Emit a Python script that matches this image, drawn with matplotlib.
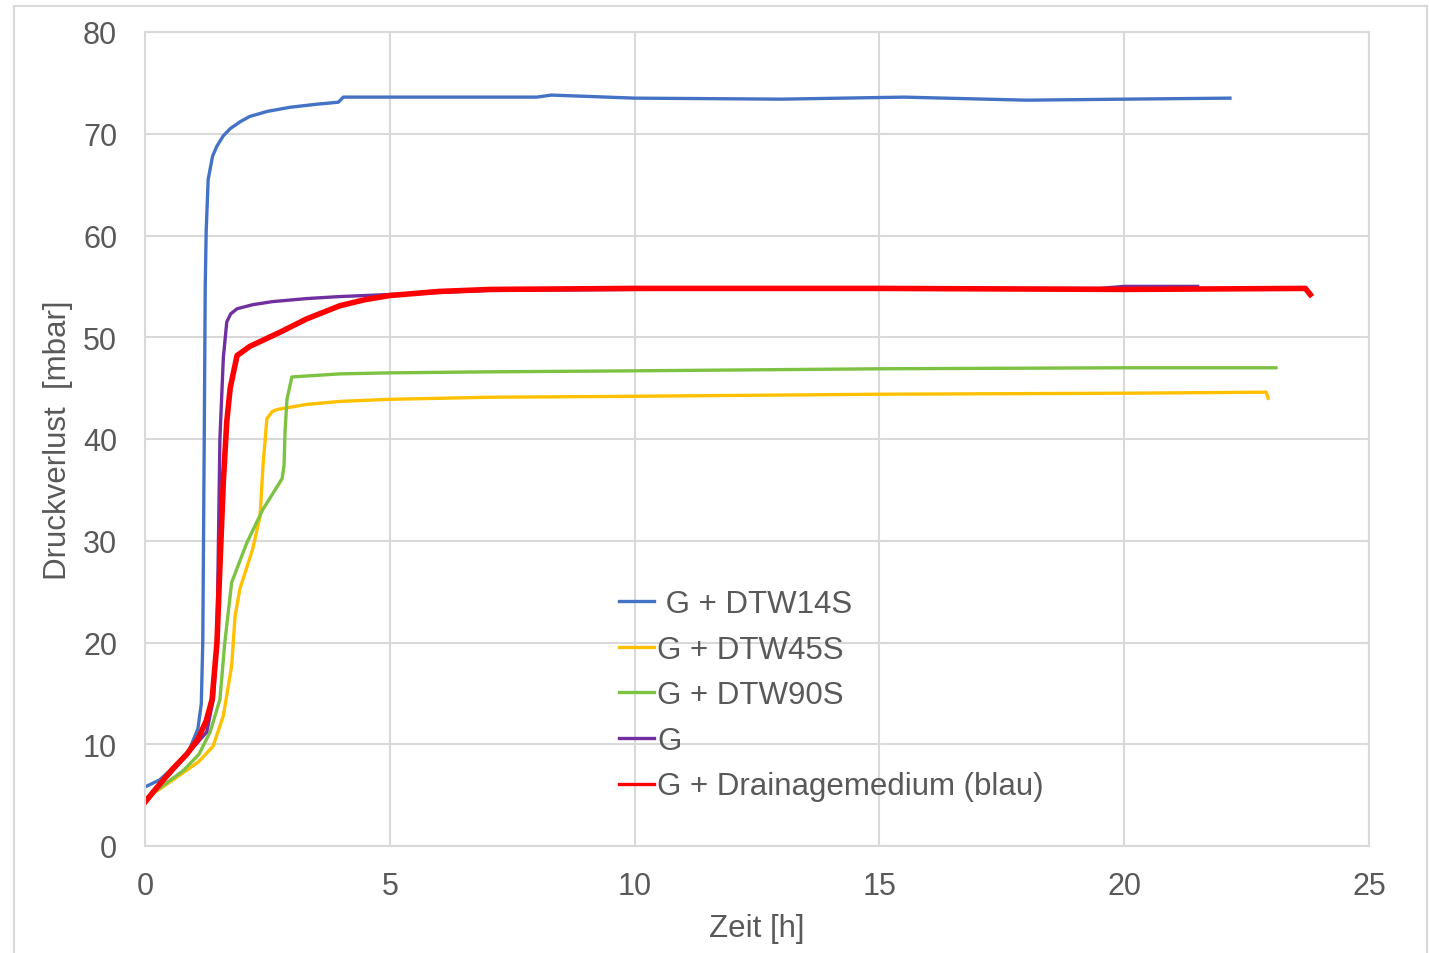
import matplotlib
matplotlib.use("Agg")
import matplotlib.pyplot as plt
from matplotlib.patches import Rectangle

plt.rcParams['font.family'] = ['Liberation Sans', 'DejaVu Sans']

# ---- data ----
t_dtw14 = [0, 0.3, 0.6, 0.9, 1.08, 1.15, 1.18, 1.21, 1.23, 1.25, 1.29, 1.38, 1.47, 1.6, 1.74,
           1.95, 2.14, 2.5, 2.96, 3.5, 3.95, 4.05, 5, 8, 8.3, 10, 13, 15.5, 18, 20, 22.16]
p_dtw14 = [5.8, 6.5, 7.8, 9.4, 11.5, 14, 20, 40, 55, 60.5, 65.5, 67.8, 68.8, 69.8, 70.5,
           71.2, 71.7, 72.2, 72.6, 72.9, 73.1, 73.6, 73.6, 73.6, 73.8, 73.5, 73.4, 73.6, 73.3, 73.4, 73.5]

t_dtw45 = [0, 0.3, 0.78, 1.1, 1.39, 1.6, 1.77, 1.84, 1.94, 2.2, 2.35, 2.41, 2.49, 2.6, 2.7,
           3.3, 4.0, 5, 7, 10, 15, 20, 22.9, 22.94]
p_dtw45 = [4.6, 5.6, 7.2, 8.3, 9.8, 12.8, 17.7, 22.6, 25.3, 29.2, 32.4, 37.4, 42, 42.7, 42.9,
           43.4, 43.7, 43.9, 44.1, 44.2, 44.4, 44.5, 44.6, 44.0]

t_dtw90 = [0, 0.3, 0.78, 1.1, 1.33, 1.53, 1.63, 1.77, 2.08, 2.41, 2.8, 2.84, 2.86, 2.9, 3.0,
           3.98, 5, 7, 10, 15, 20, 23.1]
p_dtw90 = [4.6, 5.7, 7.4, 9.0, 11.2, 14.4, 20, 25.9, 29.8, 33.1, 36.1, 37.4, 40.7, 43.9, 46.1,
           46.4, 46.5, 46.6, 46.7, 46.9, 47.0, 47.0]

t_g = [0, 0.57, 1.08, 1.26, 1.4, 1.47, 1.5, 1.53, 1.6, 1.67, 1.75, 1.88, 2.2, 2.6, 3.3,
       3.98, 5, 7, 10, 15, 19.5, 20, 21.5]
p_g = [4.5, 7.4, 10.2, 11.2, 14.5, 20, 30, 40, 48, 51.5, 52.3, 52.8, 53.2, 53.5, 53.8,
       54.0, 54.2, 54.6, 54.7, 54.8, 54.8, 55.0, 55.0]

t_drain = [0, 0.2, 0.57, 0.85, 1.08, 1.25, 1.37, 1.47, 1.53, 1.6, 1.67, 1.74, 1.88, 2.14, 2.45,
           2.76, 3.3, 3.98, 4.5, 5.0, 6.0, 7.05, 10, 15, 20, 23.7, 23.8]
p_drain = [4.3, 5.5, 7.6, 9.0, 10.5, 12.3, 14.4, 20, 27.5, 35.8, 41.7, 45, 48.2, 49.1, 49.8,
           50.5, 51.8, 53.1, 53.7, 54.1, 54.5, 54.7, 54.8, 54.8, 54.7, 54.8, 54.2]

labels = [" G + DTW14S", "G + DTW45S", "G + DTW90S", "G", "G + Drainagemedium (blau)"]
colors = ["#4472C4", "#FFC000", "#7DC242", "#7030A0", "#FF0000"]
widths = [2.4, 2.4, 2.4, 2.4, 4.0]

x_ticks = [0, 5, 10, 15, 20, 25]
y_ticks = [0, 10, 20, 30, 40, 50, 60, 70, 80]

W, H = 1429, 954
fig = plt.figure(figsize=(W / 100, H / 100), dpi=100)
fig.patches.append(Rectangle((14 / W, -0.05), 1413 / W, 1 - 7 / H + 0.05,
                             transform=fig.transFigure, fill=False,
                             edgecolor="#D9D9D9", linewidth=1.5))

ax = fig.add_axes([145 / W, 1 - 847 / H, (1369 - 145) / W, (847 - 33) / H])

series = [(t_dtw14, p_dtw14), (t_dtw45, p_dtw45), (t_dtw90, p_dtw90), (t_g, p_g), (t_drain, p_drain)]
for (t, p), lab, c, lw in zip(series, labels, colors, widths):
    ax.plot(t, p, color=c, lw=lw, label=lab, solid_joinstyle="round")

ax.set_xlim(0, 25)
ax.set_ylim(0, 80)
ax.set_xticks(x_ticks)
ax.set_yticks(y_ticks)
ax.grid(True, color="#D9D9D9", linewidth=1.5)
ax.set_axisbelow(True)
for s in ax.spines.values():
    s.set_color("#D9D9D9")
    s.set_linewidth(1.5)
ax.tick_params(length=0, labelsize=22, colors="#595959")
ax.tick_params(axis="y", pad=20)
ax.tick_params(axis="x", pad=18)

ax.set_xlabel("Zeit [h]", fontsize=22.5, color="#595959", labelpad=9)
ax.set_ylabel("Druckverlust  [mbar]", fontsize=22.5, color="#595959", labelpad=7)

handles, labs = ax.get_legend_handles_labels()
leg = fig.legend(handles, labs, loc="upper left", bbox_to_anchor=(619 / W, 1 - 590 / H),
                 frameon=False, fontsize=22.5, handlelength=1.12, handletextpad=0.1,
                 labelspacing=0.5, borderpad=0, borderaxespad=0)
for txt in leg.get_texts():
    txt.set_color("#595959")
for ln in leg.get_lines():
    ln.set_linewidth(2.4)

fig.savefig("out.png", dpi=100)
